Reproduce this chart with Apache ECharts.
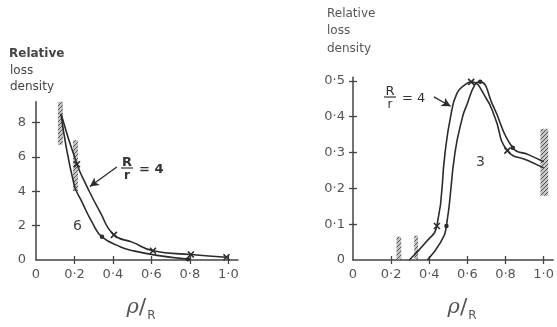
<!DOCTYPE html>
<html><head><meta charset="utf-8">
<script src="https://cdn.jsdelivr.net/npm/echarts@6/dist/echarts.min.js"></script>
<style>html,body{margin:0;background:#fff}#c{width:557px;height:327px}</style>
</head><body><div id="c"></div>
<script>
// Relative loss density against rho/R, two panels side by side
const leftTicksX = [0, 0.2, 0.4, 0.6, 0.8, 1.0];
const leftTicksY = [0, 2, 4, 6, 8];
const rightTicksX = [0, 0.2, 0.4, 0.6, 0.8, 1.0];
const rightTicksY = [0, 0.1, 0.2, 0.3, 0.4, 0.5];

// left panel: R/r = 4 (crosses) and R/r = 6 (dots)
const leftR4 = [[0.13,8.5],[0.213,5.57],[0.265,4.27],[0.332,2.81],[0.405,1.46],[0.5,1.04],[0.608,0.54],[0.805,0.32],[0.99,0.16]];
const leftR4Marks = [0.213,0.405,0.608,0.805,0.99];
const leftR6 = [[0.13,8.5],[0.197,4.43],[0.24,3.35],[0.296,2.1],[0.343,1.35],[0.44,0.76],[0.504,0.54],[0.629,0.27],[0.79,0.05]];
const leftR6Marks = [0.343,0.79];

// right panel: R/r = 4 (crosses) and R/r = 3 (dots)
const rightR4 = [[0.295,0],[0.383,0.05],[0.44,0.095],[0.483,0.3],[0.512,0.40],[0.545,0.465],[0.59,0.49],[0.62,0.497],[0.70,0.45],[0.745,0.397],[0.81,0.305],[0.92,0.277],[1.0,0.257]];
const rightR4Marks = [0.44,0.62,0.81];
const rightR3 = [[0.39,0],[0.46,0.05],[0.49,0.095],[0.535,0.3],[0.575,0.40],[0.595,0.43],[0.64,0.49],[0.667,0.497],[0.735,0.43],[0.838,0.313],[0.92,0.294],[1.0,0.274]];
const rightR3Marks = [0.49,0.667,0.838];

// hatched boundary zones [x0, y0, x1, y1]
const leftZones = [[0.114,6.7,0.14,9.4],[0.192,4.0,0.218,6.97]];
const rightZones = [[0.228,0,0.253,0.065],[0.321,0,0.341,0.068],[0.983,0.179,1.024,0.366]];

const INK = '#2b2b2b';
const TXT = '#555';
const FONT = 'DejaVu Sans';
const CROSS = 'path://M0,0L10,10M10,0L0,10';

function hatch() {
  const c = document.createElement('canvas');
  c.width = 4; c.height = 4;
  const g = c.getContext('2d');
  g.fillStyle = 'rgba(150,150,150,0.55)';
  g.fillRect(0,0,4,4);
  g.strokeStyle = 'rgba(60,60,60,0.8)';
  g.lineWidth = 1;
  g.beginPath(); g.moveTo(0,4); g.lineTo(4,0); g.stroke();
  return c;
}
const hatchFill = { image: hatch(), repeat: 'repeat' };

const dotFmt = v => v === 0 ? '0' : v.toFixed(1).replace('.', '·');

function curve(points, marks, kind, xi, yi, zones) {
  const s = {
    type: 'line', xAxisIndex: xi, yAxisIndex: yi,
    smooth: 0.5,
    showAllSymbol: true,
    lineStyle: { color: INK, width: 1.6 },
    data: points.map(p => {
      const m = marks.includes(p[0]);
      if (!m) return { value: p, symbol: 'none' };
      return kind === 'x'
        ? { value: p, symbol: CROSS, symbolSize: 6, itemStyle: { color: 'none', borderColor: INK, borderWidth: 1.6 } }
        : { value: p, symbol: 'circle', symbolSize: 4.5, itemStyle: { color: INK, borderWidth: 0 } };
    }),
    z: 3, silent: true, animation: false
  };
  if (zones) {
    s.markArea = {
      silent: true,
      itemStyle: { color: hatchFill, borderWidth: 0 },
      data: zones.map(z => [{ coord: [z[0], z[1]] }, { coord: [z[2], z[3]] }])
    };
  }
  return s;
}

function xAxes(grid, max, ticks) {
  const base = {
    type: 'value', gridIndex: grid, min: 0, max: max, position: 'bottom',
    splitLine: { show: false }
  };
  return [
    Object.assign({}, base, {
      axisLine: { lineStyle: { color: '#444', width: 1.5 } },
      axisTick: { customValues: ticks.filter(t => t > 0), length: 4, lineStyle: { color: '#444', width: 1.3 } },
      axisLabel: { customValues: ticks, formatter: dotFmt, margin: 8, color: TXT, fontSize: 13, fontFamily: FONT },
      name: '{a|ρ}{b|/}{c|R}', nameLocation: 'middle', nameGap: 34,
      nameTextStyle: {
        color: TXT, padding: [0, 0, 0, grid ? 18 : 8],
        rich: {
          a: { fontSize: 21, fontFamily: 'DejaVu Serif', fontStyle: 'italic', color: TXT },
          b: { fontSize: 22, fontFamily: FONT, color: TXT },
          c: { fontSize: 12, fontFamily: FONT, color: TXT, padding: [16, 0, 0, 1] }
        }
      }
    }),
    Object.assign({}, base, {
      axisLine: { show: false },
      axisTick: { inside: true, customValues: ticks.filter(t => t > 0), length: 4, lineStyle: { color: '#444', width: 1.3 } },
      axisLabel: { show: false }
    })
  ];
}

function yAxes(grid, max, ticks, offset, fmt) {
  const base = {
    type: 'value', gridIndex: grid, min: 0, max: max, position: 'left', offset: offset,
    splitLine: { show: false }
  };
  return [
    Object.assign({}, base, {
      axisLine: { lineStyle: { color: '#444', width: 1.5 } },
      axisTick: { customValues: ticks.filter(t => t > 0), length: 4, lineStyle: { color: '#444', width: 1.3 } },
      axisLabel: { customValues: ticks, formatter: fmt, margin: 8, color: TXT, fontSize: 13, fontFamily: FONT }
    }),
    Object.assign({}, base, {
      axisLine: { show: false },
      axisTick: { inside: true, customValues: ticks.filter(t => t > 0), length: 4, lineStyle: { color: '#444', width: 1.3 } },
      axisLabel: { show: false }
    })
  ];
}

function arrow(xi, yi, from, to) {
  return {
    type: 'line', xAxisIndex: xi, yAxisIndex: yi, data: [], silent: true, animation: false,
    markLine: {
      silent: true, symbol: ['none', 'arrow'], symbolSize: [7, 9],
      label: { show: false },
      lineStyle: { color: INK, width: 1.3, type: 'solid' },
      data: [[{ coord: from }, { coord: to }]]
    }
  };
}

function label(x, y, text, opts) {
  return {
    type: 'text', left: x, top: y, silent: true,
    style: Object.assign({ text: text, fill: TXT, font: '12px ' + FONT }, opts || {})
  };
}

function fraction(cx, cy, bold) {
  const w = bold ? 'bold ' : '';
  return [
    { type: 'text', x: cx, y: cy - 5, silent: true, style: { text: 'R', fill: '#333', font: w + '13px ' + FONT, align: 'center', verticalAlign: 'middle' } },
    { type: 'line', silent: true, shape: { x1: cx - 6, y1: cy, x2: cx + 6, y2: cy }, style: { stroke: '#333', lineWidth: 1.2 } },
    { type: 'text', x: cx, y: cy + 8, silent: true, style: { text: 'r', fill: '#333', font: w + '12px ' + FONT, align: 'center', verticalAlign: 'middle' } },
    { type: 'text', x: cx + 12, y: cy + 2, silent: true, style: { text: '= 4', fill: '#333', font: w + '13px ' + FONT, align: 'left', verticalAlign: 'middle' } }
  ];
}

const chart = echarts.init(document.getElementById('c'), null, { renderer: 'canvas' });
chart.setOption({
  backgroundColor: '#fff',
  animation: false,
  grid: [
    { left: 36, top: 101.8, width: 202, height: 170.2 },
    { left: 353, top: 77.2, width: 203, height: 193.8 }
  ],
  xAxis: [].concat(xAxes(0, 1.05, leftTicksX), xAxes(1, 1.05, rightTicksX)),
  yAxis: [].concat(
    yAxes(0, 9.2, leftTicksY, 2, v => String(v)),
    yAxes(1, 0.51, rightTicksY, 0, dotFmt)
  ),
  series: [
    curve(leftR4, leftR4Marks, 'x', 0, 0, leftZones),
    curve(leftR6, leftR6Marks, 'dot', 0, 0),
    curve(rightR4, rightR4Marks, 'x', 2, 2, rightZones),
    curve(rightR3, rightR3Marks, 'dot', 2, 2),
    arrow(0, 0, [0.42, 5.41], [0.28, 4.27]),
    arrow(2, 2, [0.424, 0.455], [0.512, 0.429])
  ],
  graphic: [
    label(9, 48, 'Relative', { font: 'bold 12px ' + FONT, fill: '#444' }),
    label(10, 65, 'loss', { fill: '#444' }),
    label(10, 81, 'density', { fill: '#444' }),
    label(327, 8, 'Relative'),
    label(327, 25, 'loss'),
    label(327, 43, 'density'),
    label(73, 219, '6', { font: '14px ' + FONT, fill: '#444' }),
    label(476, 155, '3', { font: '14px ' + FONT, fill: '#444' })
  ].concat(fraction(127, 168, true), fraction(390, 97, false))
});
</script>
</body></html>
